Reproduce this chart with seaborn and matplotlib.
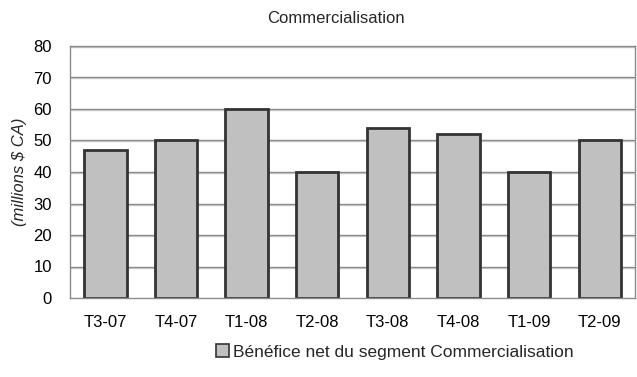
import matplotlib
matplotlib.use("Agg")
import matplotlib.pyplot as plt
import matplotlib.transforms as mtransforms
from matplotlib.patches import Patch
import seaborn as sns
import pandas as pd

quarters = ["T3-07", "T4-07", "T1-08", "T2-08", "T3-08", "T4-08", "T1-09", "T2-09"]
net_income = [47, 50, 60, 40, 54, 52, 40, 50]
series_name = "Bénéfice net du segment Commercialisation"
y_ticks = [0, 10, 20, 30, 40, 50, 60, 70, 80]

df = pd.DataFrame({"Trimestre": quarters, "Valeur": net_income})

sns.set_theme(style="white")
plt.rcParams["font.family"] = ["Liberation Sans", "DejaVu Sans"]
FS = 12

fig = plt.figure(figsize=(6.37, 3.77), dpi=100)
ax = fig.add_axes([70 / 637, 1 - 298 / 377, 565 / 637, 252 / 377])

# grid lines with a faint shadow just below each one
grid_tr = ax.get_yaxis_transform()
shadow_tr = grid_tr + mtransforms.ScaledTranslation(0, -1.0 / 100, fig.dpi_scale_trans)
for v in y_ticks[1:]:
    ax.plot([0, 1], [v, v], color="#d0d0d0", lw=1.0, transform=shadow_tr, zorder=0.4)
    ax.plot([0, 1], [v, v], color="#8c8c8c", lw=1.0, transform=grid_tr, zorder=0.5)

sns.barplot(data=df, x="Trimestre", y="Valeur", color="#c0c0c0",
            edgecolor="#333333", linewidth=2.0, width=0.6, saturation=1,
            ax=ax, zorder=2)

ax.set_ylim(0, 80)
ax.set_xlim(-0.5, len(quarters) - 0.5)
ax.set_yticks(y_ticks)
ax.set_yticklabels([str(t) for t in y_ticks])
ax.set_xlabel("")
ax.set_ylabel("")

for side in ["left", "bottom", "top", "right"]:
    ax.spines[side].set_color("#8c8c8c")
    ax.spines[side].set_linewidth(1.0)
ax.tick_params(axis="y", which="both", left=False, length=0, pad=13,
               labelsize=FS, labelcolor="black")
ax.tick_params(axis="x", bottom=False, length=0, pad=12, labelsize=FS, labelcolor="black")

fig.text(20 / 637, 1 - 172 / 377, "(millions $ CA)", rotation=90, fontstyle="italic",
         fontsize=FS, ha="center", va="center")
fig.text(336 / 637, 1 - 18.5 / 377, "Commercialisation", fontsize=FS,
         ha="center", va="center")

handle = Patch(facecolor="#c0c0c0", edgecolor="#333333", linewidth=1.2)
fig.legend([handle], [series_name], loc="center", bbox_to_anchor=(395 / 637, 1 - 352 / 377),
           frameon=False, fontsize=12.5, handlelength=0.7, handleheight=0.7,
           handletextpad=0.25, borderaxespad=0)

fig.savefig("out.png", dpi=100)
